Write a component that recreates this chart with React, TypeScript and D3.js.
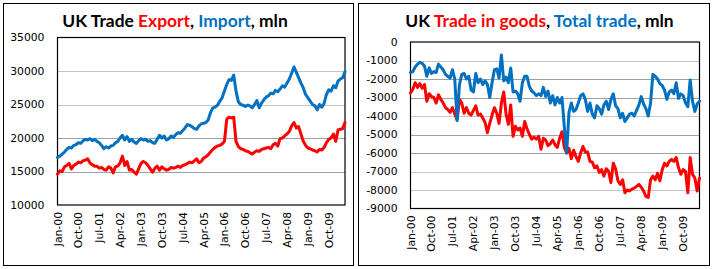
import React from "react";
import * as d3 from "d3";

const tickLabels = ["Jan-00","Oct-00","Jul-01","Apr-02","Jan-03","Oct-03","Jul-04","Apr-05","Jan-06","Oct-06","Jul-07","Apr-08","Jan-09","Oct-09"];
const tickStep = 9;

const importVals = [
17100,17300,17600,17900,18300,18600,18500,18900,19000,19300,19200,19600,19800,19700,19900,19600,19800,19500,19300,18900,
18400,18700,18500,18800,18900,19300,19500,20000,20400,19700,20200,19500,19800,19400,19200,19600,19900,19700,19800,19500,
19600,19300,19200,19800,20400,20000,20300,19700,19900,20300,20100,20500,20800,20700,21100,21500,22000,21900,21700,21400,
21300,21800,22100,22200,22300,22700,23800,24500,24600,24900,25500,26000,27000,28000,28700,28600,29400,27000,25400,25000,
24900,24700,24900,24800,24500,25000,25600,24500,25200,25700,26100,26300,26700,26600,27100,26900,27300,27800,27600,28200,
28800,29700,30600,29800,29000,28200,27500,26500,26000,25500,25000,24800,24200,25000,24600,25200,26500,27200,27000,27800,
27500,28500,28800,29000,29900];

const exportVals = [
14600,15100,15000,15700,15900,16200,15400,15900,16100,16400,16300,16600,16700,16900,16300,16000,15800,15800,15500,15600,
15300,15200,15700,15500,14800,15700,15800,16300,17300,15900,16500,15200,15300,14900,14600,15400,16200,16500,16300,15900,
15400,14900,15500,15800,15200,15700,15400,15200,15300,15600,15500,15600,15800,15600,15900,16000,16200,16400,16300,16600,
16900,16300,16500,17000,17200,17500,17900,18300,18600,18800,18900,19100,19500,22800,23100,23000,23100,19500,18700,18400,
18300,18100,18000,17800,17600,17900,18100,18000,18300,18400,18500,18600,18400,19000,19200,18800,19900,20000,20300,20600,
21000,21800,22300,21500,21700,20600,19500,18900,18500,18400,18200,18100,17900,18300,18200,18600,19300,19800,20000,20600,
19500,21200,21300,21400,22300];

const goodsVals = [
-2750,-2550,-2200,-2450,-2250,-2500,-2300,-3200,-2800,-2950,-3000,-3300,-2850,-3100,-3300,-3550,-3650,-3800,-3550,-3900,
-4200,-3100,-3300,-3850,-3550,-3850,-3950,-3700,-3450,-3950,-3900,-4100,-4350,-4900,-4400,-3950,-3550,-3850,-4400,-3300,
-2700,-3900,-4450,-3400,-5100,-4550,-4750,-4650,-5100,-4300,-4700,-5000,-5250,-5150,-5250,-5100,-5800,-5200,-5300,-5600,
-5500,-5300,-5550,-5700,-5200,-4850,-5700,-6000,-5750,-6300,-5850,-6200,-6450,-6000,-5650,-5950,-5950,-6450,-6500,-6800,
-6700,-7050,-6900,-7250,-6850,-7000,-7600,-6550,-6850,-7500,-7700,-7450,-8150,-8000,-8050,-7950,-7900,-7800,-7700,-7850,
-8050,-8350,-8400,-7450,-7250,-7450,-7100,-7500,-6900,-6550,-6700,-6450,-6350,-6450,-6250,-6800,-7150,-6900,-7000,-8150,
-6250,-7150,-7350,-8050,-7350];

const totalVals = [
-1650,-1600,-1350,-1200,-1100,-1150,-1300,-1850,-1400,-1700,-1600,-1650,-1200,-1350,-1500,-1750,-1850,-1950,-1500,-2000,
-4250,-2300,-1750,-1700,-2000,-1850,-2600,-2700,-1700,-2200,-2000,-2300,-2100,-2300,-3000,-2200,-1500,-1450,-1950,-700,
-2100,-1900,-2200,-1400,-2700,-2650,-2800,-3200,-2200,-1850,-1850,-2400,-2650,-2750,-2900,-2800,-2900,-2450,-2950,-2650,
-3300,-2900,-3400,-3000,-3300,-3000,-4600,-6000,-3800,-3300,-3750,-3650,-3300,-2900,-2800,-3100,-3750,-3300,-3900,-4100,
-3450,-3600,-3900,-3400,-3200,-3650,-3100,-2800,-3450,-3600,-4100,-3850,-4300,-4100,-3900,-3850,-4000,-3700,-3400,-2950,
-3350,-3600,-4000,-3300,-1750,-1850,-2000,-2250,-2350,-2600,-3100,-2700,-2600,-2800,-2200,-3050,-2800,-2900,-3300,-3500,
-2050,-3200,-3750,-3350,-3200];

const leftTicks = [10000, 15000, 20000, 25000, 30000, 35000];
const leftDotted = [25000, 30000];
const rightTicks = [0, -1000, -2000, -3000, -4000, -5000, -6000, -7000, -8000, -9000];
const rightDotted = [-1000, -4000, -7000, -8000];

const RED = "#FF0000";
const BLUE = "#0070C0";

type Series = { values: number[]; color: string };
type PanelProps = {
  frame: [number, number, number, number];
  plot: [number, number, number, number];
  domain: [number, number];
  ticks: number[];
  dotted: number[];
  series: Series[];
  title: { text: string; color: string }[];
  titleX: number;
  labelRight: number;
};

function Panel(p: PanelProps) {
  const [fx, fy, fw, fh] = p.frame;
  const [px, py, pw, ph] = p.plot;
  const n = p.series[0].values.length;
  const x = d3.scaleLinear().domain([0, n - 1]).range([px, px + pw]);
  const y = d3.scaleLinear().domain(p.domain).range([py + ph, py]);
  const line = d3.line<number>().x((_, i) => x(i)).y((v) => y(v));
  const top = p.domain[1];
  const bottom = p.domain[0];
  return (
    <g>
      <rect x={fx} y={fy} width={fw} height={fh} fill="#fff" stroke="#000" strokeWidth={1} />
      <text x={p.titleX} y={27} textAnchor="middle" fill="#000" fontFamily="Lato, 'Open Sans', sans-serif" fontWeight="bold" fontSize={17.4}>
        {p.title.map((t, i) => (
          <tspan key={i} style={{ fill: t.color }}>{t.text}</tspan>
        ))}
      </text>
      {p.ticks.filter((t) => t !== top && t !== bottom).map((t) => (
        <line key={t} x1={px} x2={px + pw} y1={Math.round(y(t)) + 0.5} y2={Math.round(y(t)) + 0.5}
          stroke={p.dotted.includes(t) ? "#8a8a8a" : "#a0a0a0"} strokeWidth={1}
          strokeDasharray={p.dotted.includes(t) ? "1,1" : undefined} />
      ))}
      <rect x={px} y={py} width={pw} height={ph} fill="none" stroke="#000" strokeWidth={1.2} />
      {p.ticks.map((t) => (
        <text key={t} x={p.labelRight} y={y(t)} dy="0.35em" textAnchor="end"
          fontFamily="'DejaVu Sans', Verdana, sans-serif" fontSize={10.8} fill="#000">{t}</text>
      ))}
      {tickLabels.map((lab, i) => {
        const xx = x(i * tickStep);
        return (
          <text key={lab} transform={`translate(${xx + 4},${py + ph + 7}) rotate(-90)`} textAnchor="end"
            fontFamily="'DejaVu Sans', Verdana, sans-serif" fontSize={10.8} fill="#000">{lab}</text>
        );
      })}
      {p.series.map((s, i) => (
        <path key={i} d={line(s.values) || ""} fill="none" stroke={s.color} strokeWidth={3}
          strokeLinejoin="round" strokeLinecap="round" />
      ))}
    </g>
  );
}

export default function App() {
  return (
    <svg width={712} height={269} style={{ position: "absolute", left: 0, top: 0, background: "#fff" }}>
      <rect x={0} y={0} width={712} height={269} fill="#fff" />
      <Panel
        frame={[3.5, 3.5, 350, 262]}
        plot={[57.5, 37.5, 287.5, 167.5]}
        domain={[10000, 35000]}
        ticks={leftTicks}
        dotted={leftDotted}
        series={[{ values: importVals, color: BLUE }, { values: exportVals, color: RED }]}
        title={[
          { text: "UK Trade ", color: "#000000" },
          { text: "Export", color: RED },
          { text: ", ", color: "#000000" },
          { text: "Import", color: BLUE },
          { text: ", mln", color: "#000000" },
        ]}
        titleX={175}
        labelRight={44.5}
      />
      <Panel
        frame={[358.5, 3.5, 351, 262]}
        plot={[410.5, 42, 289, 166.5]}
        domain={[-9000, 0]}
        ticks={rightTicks}
        dotted={rightDotted}
        series={[{ values: goodsVals, color: RED }, { values: totalVals, color: BLUE }]}
        title={[
          { text: "UK ", color: "#000000" },
          { text: "Trade in goods", color: RED },
          { text: ", ", color: "#000000" },
          { text: "Total trade", color: BLUE },
          { text: ", mln", color: "#000000" },
        ]}
        titleX={539.5}
        labelRight={397.5}
      />
    </svg>
  );
}
